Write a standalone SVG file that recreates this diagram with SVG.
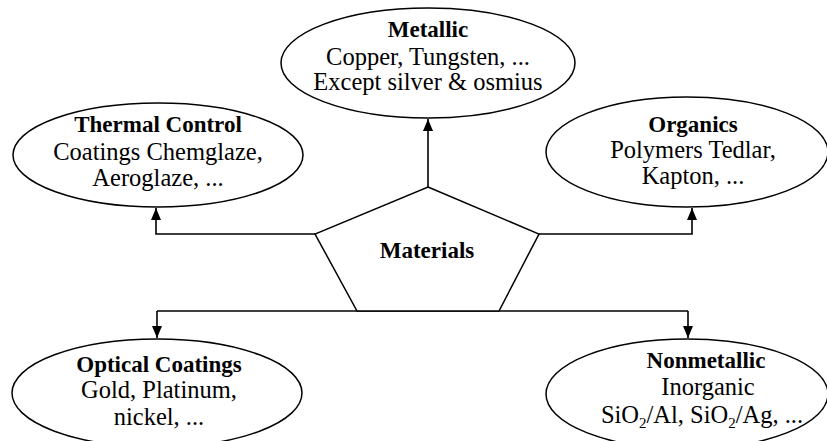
<svg xmlns="http://www.w3.org/2000/svg" width="827" height="441" viewBox="0 0 827 441">
<defs>
<style>
.n{fill:#fff;stroke:#000;stroke-width:1.5}
.c{fill:none;stroke:#000;stroke-width:1.6}
text{font-family:"Liberation Serif","Times New Roman",serif;font-size:24.5px;fill:#000;text-anchor:middle}
.b{font-weight:bold;font-size:23px}
</style>
<marker id="ah" viewBox="0 0 12 12" refX="12" refY="6" markerWidth="12" markerHeight="12" markerUnits="userSpaceOnUse" orient="auto">
<path d="M0,1 L12,6 L0,11 Z" fill="#000"/>
</marker>
</defs>
<rect width="827" height="441" fill="#fff"/>
<g id="connectors">
<path class="c" d="M428,187 V119" marker-end="url(#ah)"/>
<path class="c" d="M315,234 H156 V208" marker-end="url(#ah)"/>
<path class="c" d="M539,234 H692 V208" marker-end="url(#ah)"/>
<path class="c" d="M157,311 H688"/>
<path class="c" d="M157,311 V338" marker-end="url(#ah)"/>
<path class="c" d="M688,311 V338" marker-end="url(#ah)"/>
</g>
<g id="materials">
<polygon class="n" points="428,187 539,234 499,311 357,311 315,234"/>
<text class="b" x="427" y="258">Materials</text>
</g>
<g id="metallic">
<ellipse class="n" cx="428" cy="63" rx="147" ry="55"/>
<text class="b" x="428" y="37">Metallic</text>
<text x="428" y="65">Copper, Tungsten, ...</text>
<text x="428" y="90">Except silver &amp; osmius</text>
</g>
<g id="thermal">
<ellipse class="n" cx="158" cy="155" rx="145" ry="52"/>
<text class="b" x="158" y="132">Thermal Control</text>
<text x="158" y="160">Coatings Chemglaze,</text>
<text x="158" y="186">Aeroglaze, ...</text>
</g>
<g id="organics">
<ellipse class="n" cx="687" cy="152" rx="141" ry="55"/>
<text class="b" x="693" y="132">Organics</text>
<text x="693" y="158">Polymers Tedlar,</text>
<text x="693" y="184">Kapton, ...</text>
</g>
<g id="optical">
<ellipse class="n" cx="157" cy="393" rx="145" ry="54"/>
<text class="b" x="159" y="372">Optical Coatings</text>
<text x="159" y="398">Gold, Platinum,</text>
<text x="159" y="425">nickel, ...</text>
</g>
<g id="nonmetallic">
<ellipse class="n" cx="687" cy="394" rx="141" ry="55"/>
<text class="b" x="706" y="368">Nonmetallic</text>
<text x="708" y="395">Inorganic</text>
<text x="702" y="423">SiO<tspan font-size="15" dy="5">2</tspan><tspan dy="-5">/Al, SiO</tspan><tspan font-size="15" dy="5">2</tspan><tspan dy="-5">/Ag, ...</tspan></text>
</g>
</svg>
